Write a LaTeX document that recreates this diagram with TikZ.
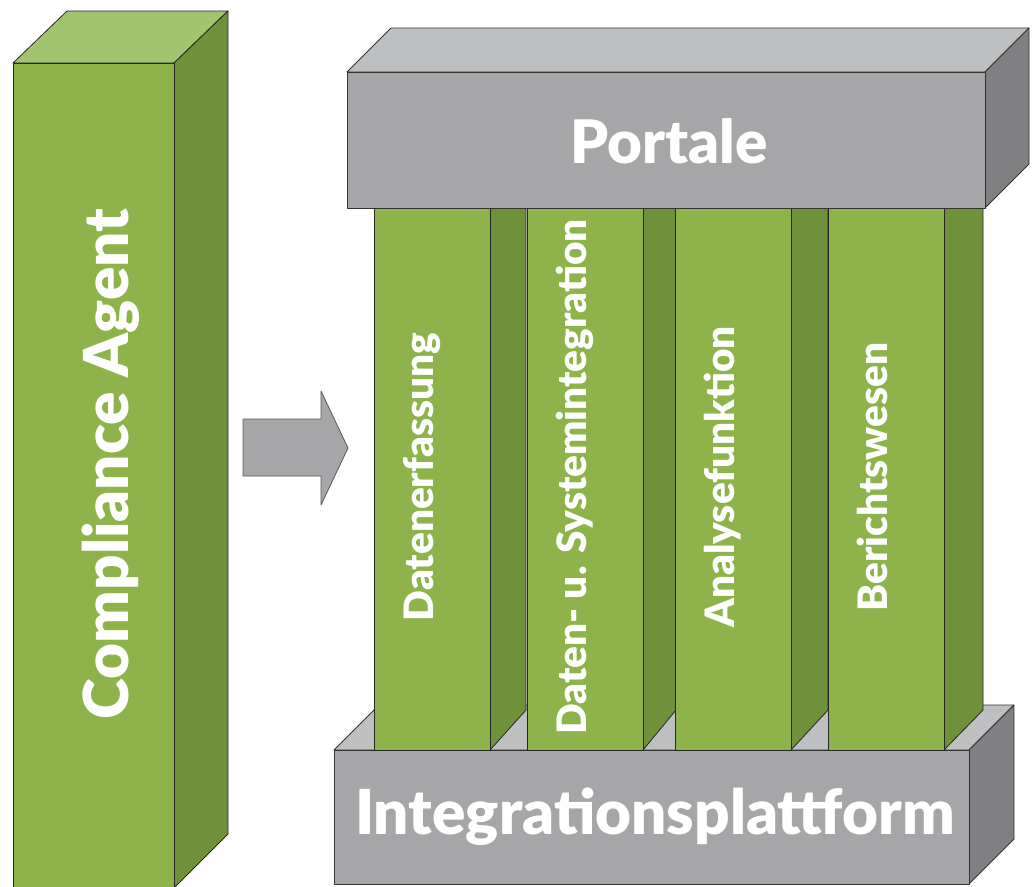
\documentclass[tikz,border=0pt]{standalone}
\usepackage{fontspec}
\setmainfont{Lato}[BoldFont={Lato Black}]
\definecolor{grnfront}{RGB}{141,179,74}
\definecolor{grntop}{RGB}{161,196,110}
\definecolor{grnside}{RGB}{111,145,58}
\definecolor{gryfront}{RGB}{166,166,168}
\definecolor{grytop}{RGB}{190,191,193}
\definecolor{gryside}{RGB}{128,128,130}

\begin{document}
\begin{tikzpicture}[x=1pt,y=-1pt,line join=round,
  gfront/.style={draw=black!85,line width=0.8pt,fill=grnfront},
  gtop/.style={draw=black!85,line width=0.8pt,fill=grntop},
  gside/.style={draw=black!85,line width=0.8pt,fill=grnside},
  yfront/.style={draw=black!80,line width=0.8pt,fill=gryfront},
  ytop/.style={draw=black!80,line width=0.8pt,fill=grytop},
  yside/.style={draw=black!80,line width=0.8pt,fill=gryside},
  lbl/.style={text=white,inner sep=0pt}]
\useasboundingbox (0,0) rectangle (1032,886);
% Integrationsplattform
\draw[ytop] (334,750) -- (379,705) -- (1014,705) -- (969,750) -- cycle;
\draw[yside] (969,750) -- (1014,705) -- (1014,839) -- (969,884) -- cycle;
\draw[yfront] (334,750) rectangle (969,884);
\node[lbl,font=\bfseries\fontsize{62}{70}\selectfont] (integ) at (655,817) {Integrationsplattform};
% Saeulen
\foreach \x/\w/\n/\t in {374/36/erf/Datenerfassung,527/33/sys/Daten- u. Systemintegration,
                         675/37/ana/Analysefunktion,828/39/ber/Berichtswesen}{
  \draw[gside] (\x+116,750) -- (\x+116+\w,710) -- (\x+116+\w,170) -- (\x+116,208) -- cycle;
  \draw[gfront] (\x,208) rectangle (\x+116,750);
  \node[lbl,rotate=90,anchor=base,font=\bfseries\fontsize{40.5}{46}\selectfont] (\n) at (\x+59,477) {\t};
}
% Portale
\draw[ytop] (347,72) -- (391,28) -- (1029,28) -- (985,72) -- cycle;
\draw[yside] (985,72) -- (1029,28) -- (1029,164) -- (985,208) -- cycle;
\draw[yfront] (347,72) rectangle (985,208);
\node[lbl,font=\bfseries\fontsize{60}{66}\selectfont] (port) at (669,141) {Portale};
% Compliance Agent
\draw[gtop] (13,63) -- (67,11) -- (228,11) -- (174,63) -- cycle;
\draw[gside] (174,63) -- (228,11) -- (228,834) -- (174,888) -- cycle;
\draw[gfront] (13,63) rectangle (174,888);
\node[lbl,rotate=90,anchor=base,font=\bfseries\fontsize{62}{70}\selectfont] (agent) at (128,464) {Compliance Agent};
% Pfeil
\draw[yfront,draw=black!65] (243,419) -- (321,419) -- (321,391) -- (348,448)
  -- (321,505) -- (321,476) -- (243,476) -- cycle;
\end{tikzpicture}
\end{document}
